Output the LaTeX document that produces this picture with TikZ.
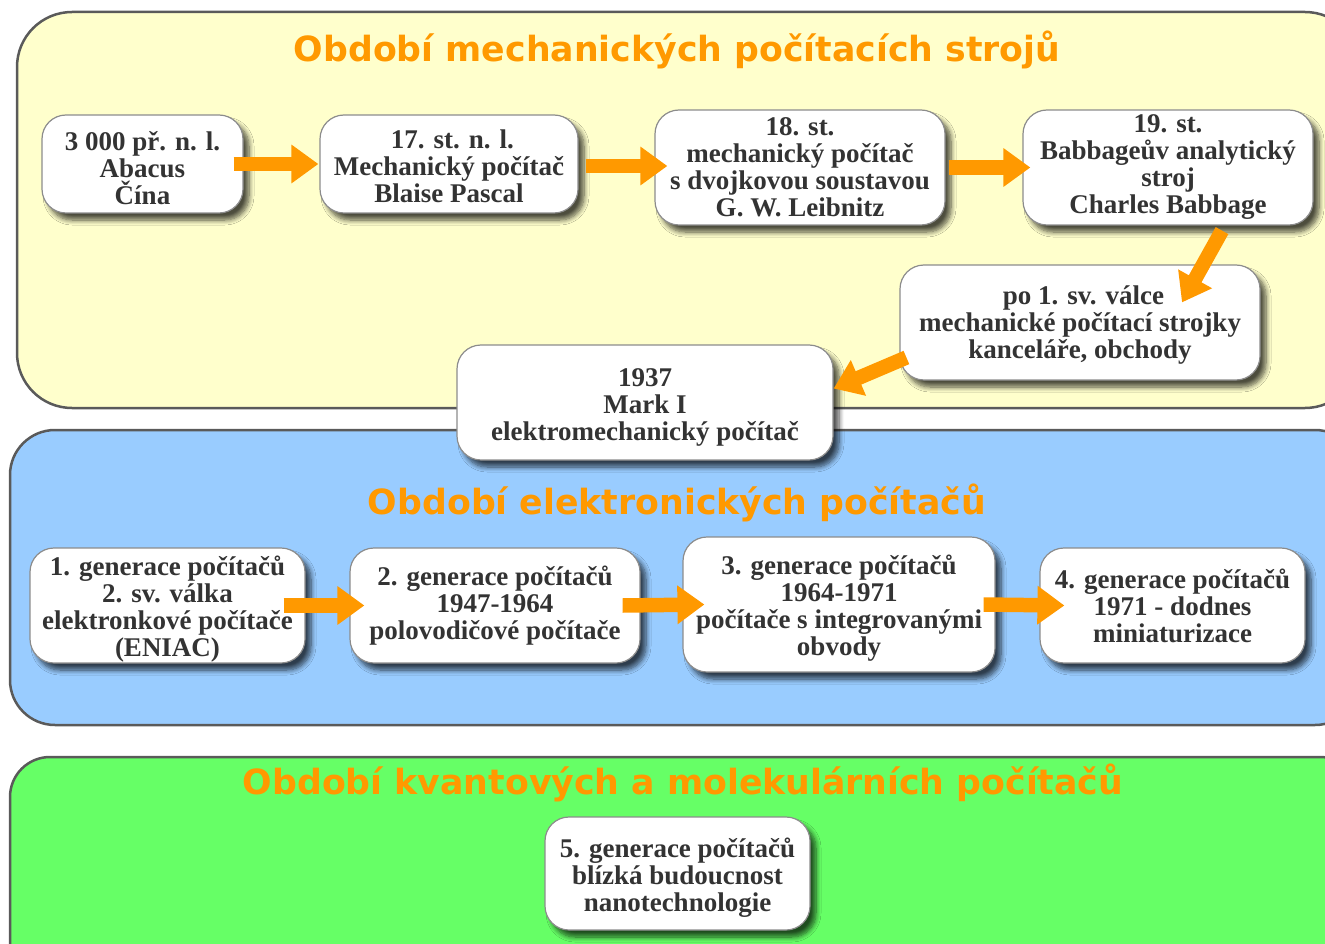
\documentclass[tikz,border=0pt]{standalone}
\usepackage{fontspec}
\setmainfont{Liberation Serif}
\newfontfamily\titlefont{DejaVu Sans}
\usetikzlibrary{arrows.meta,shadows.blur}
\definecolor{panelY}{HTML}{FFFFCC}
\definecolor{panelB}{HTML}{99CCFF}
\definecolor{panelG}{HTML}{66FF66}
\definecolor{orng}{HTML}{FF9900}
\definecolor{txt}{HTML}{333333}
\definecolor{frame}{HTML}{5A5A5A}
\newcommand\topstrut[1][27pt]{\rule{0pt}{#1}}
\tikzset{
  panel/.style={draw=frame, line width=2.5pt},
  ptitle/.style={text=orng, font=\titlefont\bfseries\fontsize{34.7}{36}\selectfont},
  box/.style={draw=black!45, line width=1.2pt, fill=white, rounded corners=24pt,
    inner sep=0pt, align=center, text=txt,
    font=\bfseries\fontsize{27}{27}\selectfont,
    blur shadow={shadow xshift=6pt, shadow yshift=-7pt, shadow blur radius=5pt, shadow opacity=70, shadow blur steps=8}},
  arr/.style={draw=orng, line width=14.5pt, -{Triangle[width=37pt,length=27pt]}}
}
\begin{document}
\begin{tikzpicture}[x=1pt,y=-1pt]
\useasboundingbox (0,0) rectangle (1325,944);
\clip (0,0) rectangle (1325,944);
% panels
\draw[panel, fill=panelY, rounded corners=55pt] (17,12) rectangle (1360,408);
\draw[panel, fill=panelB, rounded corners=45pt] (10,430) rectangle (1360,725);
\draw[panel, fill=panelG, rounded corners=40pt] (10,757) rectangle (1360,980);
% titles
\node[ptitle] (t1) at (677,50) {Období mechanických počítacích strojů};
\node[ptitle] (t2) at (677,503) {Období elektronických počítačů};
\node[ptitle] (t3) at (683,783) {Období kvantových a molekulárních počítačů};
% boxes
\node[box, minimum width=201pt, minimum height=98pt] (b1) at (142.5,164) {\topstrut 3 000 př. n. l.\\Abacus\\Čína};
\node[box, minimum width=258pt, minimum height=98pt] (b2) at (449,164) {\topstrut[24pt] 17. st. n. l.\\Mechanický počítač\\Blaise Pascal};
\node[box, minimum width=290pt, minimum height=115pt] (b3) at (800,167.5) {18. st.\\mechanický počítač\\s dvojkovou soustavou\\G. W. Leibnitz};
\node[box, minimum width=290pt, minimum height=115pt] (b4) at (1168,167.5) {19. st.\\Babbageův analytický\\stroj\\Charles Babbage};
\node[box, minimum width=360pt, minimum height=115pt] (b5) at (1080,322.5) {\topstrut[24pt] po 1. sv. válce\\mechanické počítací strojky\\kanceláře, obchody};
\node[box, minimum width=376pt, minimum height=115pt] (b6) at (645,402.5) {\topstrut 1937\\Mark I\\elektromechanický počítač};
\node[box, minimum width=275pt, minimum height=115pt] (b7) at (167.5,605.5) {\topstrut 1. generace počítačů\\2. sv. válka\\elektronkové počítače\\(ENIAC)};
\node[box, minimum width=290pt, minimum height=115pt] (b8) at (495,605.5) {2. generace počítačů\\1947-1964\\polovodičové počítače};
\node[box, minimum width=312pt, minimum height=135pt] (b9) at (839,604.5) {\topstrut 3. generace počítačů\\1964-1971\\počítače s integrovanými\\obvody};
\node[box, minimum width=265pt, minimum height=115pt] (b10) at (1172.5,605.5) {4. generace počítačů\\1971 - dodnes\\miniaturizace};
\node[box, minimum width=265pt, minimum height=113pt] (b11) at (677.5,873.5) {\topstrut 5. generace počítačů\\blízká budoucnost\\nanotechnologie};
% arrows
\draw[arr] ([xshift=-10pt]b1.east) -- ([xshift=-1pt]b2.west);
\draw[arr] ([xshift=7pt,yshift=-2pt]b2.east) -- ([xshift=13pt,yshift=1.5pt]b3.west);
\draw[arr] ([xshift=3pt]b3.east) -- ([xshift=8pt]b4.west);
\draw[arr] ([xshift=54pt,yshift=-5pt]b4.south) -- ([xshift=102pt,yshift=-38pt]b5.north);
\draw[arr] ([xshift=7pt,yshift=-35pt]b5.west) -- ([yshift=14pt]b6.east);
\draw[arr] ([xshift=-22pt]b7.east) -- ([xshift=15pt]b8.west);
\draw[arr] ([xshift=-18pt]b8.east) -- ([xshift=22pt]b9.west);
\draw[arr] ([xshift=-12pt]b9.east) -- ([xshift=25pt]b10.west);
\end{tikzpicture}
\end{document}
